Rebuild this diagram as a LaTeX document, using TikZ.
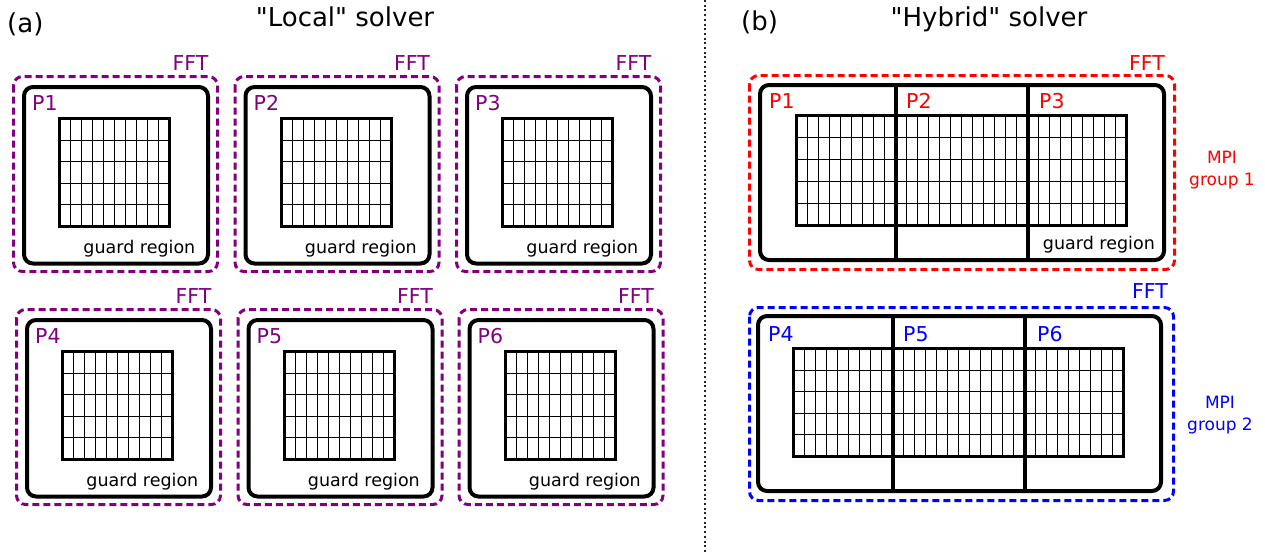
\documentclass[tikz,border=0pt]{standalone}
\usepackage{fontspec}
\setmainfont{DejaVu Sans}[Ligatures=TeXOff]
\definecolor{mpurple}{RGB}{128,0,128}
\tikzset{
  dashbox/.style={line width=3pt, dash pattern=on 7pt off 4pt, rounded corners=9pt},
  procbox/.style={line width=4pt, rounded corners=9pt, draw=black},
  gridborder/.style={line width=3pt, draw=black},
  gridline/.style={line width=1pt, draw=black},
  divider/.style={line width=4pt, draw=black},
  plabel/.style={font=\fontsize{20.5}{24}\selectfont, anchor=base west, inner sep=0pt},
  fftlabel/.style={font=\fontsize{20.5}{24}\selectfont, anchor=base east, inner sep=0pt},
  guardlabel/.style={font=\fontsize{17.5}{20}\selectfont, anchor=base east, inner sep=0pt},
  mpilabel/.style={font=\fontsize{17}{20}\selectfont, anchor=base, inner sep=0pt},
  titlelabel/.style={font=\fontsize{26}{30}\selectfont, inner sep=0pt},
}
\newcommand{\localcell}[3]{%
  \begin{scope}[shift={(#1,#2)}]
    \draw[mpurple, dashbox] (0,0) rectangle (204,195);
    \draw[procbox] (10.5,10.5) rectangle (194.5,187);
    \foreach \i in {1,...,9} \draw[gridline] ({46+11*\i},42) -- ({46+11*\i},150);
    \foreach \j in {1,...,4} \draw[gridline] (46,{42+21.6*\j}) -- (156,{42+21.6*\j});
    \draw[gridborder] (46,42) rectangle (156,150);
    \node[plabel, text=mpurple] (p#3) at (18.5,34) {P#3};
    \node[fftlabel, text=mpurple] (fft#3) at (195,-6) {FFT};
    \node[guardlabel] (gr#3) at (182,177) {guard region};
  \end{scope}}
\begin{document}
\begin{tikzpicture}[x=1pt, y=-1pt]
\useasboundingbox (0,0) rectangle (1265,554);
% titles
\node[titlelabel, anchor=base west] (ta) at (7,32) {(a)};
\node[titlelabel, anchor=base] (tlocal) at (345,27) {"Local" solver};
\node[titlelabel, anchor=base west] (tb) at (741,30) {(b)};
\node[titlelabel, anchor=base] (thybrid) at (989,27) {"Hybrid" solver};
% separator
\coordinate (septop) at (705,0);
\coordinate (sepbot) at (705,554);
\draw[line width=2pt, dash pattern=on 2pt off 2.7pt, black!85] (septop) -- (sepbot);
% local solver cells
\localcell{13.5}{76.5}{1}
\localcell{235}{76.5}{2}
\localcell{456.5}{76.5}{3}
\localcell{16.5}{309.5}{4}
\localcell{238}{309.5}{5}
\localcell{459}{309.5}{6}
% hybrid, group 1
\draw[red, dashbox] (749.5,75.5) rectangle (1174.5,269.5);
\draw[procbox] (760,85) rectangle (1164,260);
\foreach \i in {1,...,29} \draw[gridline] ({796.5+11*\i},115.5) -- ({796.5+11*\i},225.5);
\foreach \j in {1,...,4} \draw[gridline] (796.5,{115.5+22*\j}) -- (1126.5,{115.5+22*\j});
\draw[gridborder] (796.5,115.5) rectangle (1126.5,225.5);
\draw[divider] (895.5,85) -- (895.5,260);
\draw[divider] (1027.5,85) -- (1027.5,260);
\node[plabel, text=red] (hp1) at (769,108) {P1};
\node[plabel, text=red] (hp2) at (906,108) {P2};
\node[plabel, text=red] (hp3) at (1039,108) {P3};
\node[fftlabel, text=red] (hfft1) at (1165,70) {FFT};
\node[guardlabel] (hgr1) at (1155,249) {guard region};
\node[mpilabel, text=red] (mpi1a) at (1222,163) {MPI};
\node[mpilabel, text=red] (mpi1b) at (1222,185) {group 1};
% hybrid, group 2
\draw[blue, dashbox] (749.5,307.5) rectangle (1173.5,500.5);
\draw[procbox] (758,316) rectangle (1161,491);
\foreach \i in {1,...,29} \draw[gridline] ({793.5+11*\i},348.5) -- ({793.5+11*\i},456.5);
\foreach \j in {1,...,4} \draw[gridline] (793.5,{348.5+21.6*\j}) -- (1123.5,{348.5+21.6*\j});
\draw[gridborder] (793.5,348.5) rectangle (1123.5,456.5);
\draw[divider] (892.5,316) -- (892.5,491);
\draw[divider] (1024.5,316) -- (1024.5,491);
\node[plabel, text=blue] (hp4) at (768,341) {P4};
\node[plabel, text=blue] (hp5) at (903,341) {P5};
\node[plabel, text=blue] (hp6) at (1037,341) {P6};
\node[fftlabel, text=blue] (hfft2) at (1168,298) {FFT};
\node[mpilabel, text=blue] (mpi2a) at (1220,408) {MPI};
\node[mpilabel, text=blue] (mpi2b) at (1220,430) {group 2};
\end{tikzpicture}
\end{document}
